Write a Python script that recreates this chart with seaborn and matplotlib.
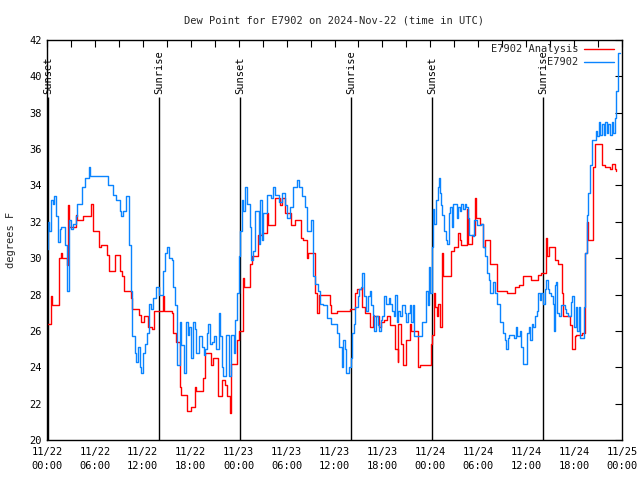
import matplotlib
matplotlib.use("Agg")
import matplotlib.pyplot as plt
import seaborn as sns
import pandas as pd
import numpy as np
from matplotlib.ticker import MultipleLocator

# ---- data (hours since 2024-11-22 00:00 UTC) ----
analysis_t = [0, 0.5, 0.65, 1.5, 1.55, 1.8, 1.9, 2.5, 2.6, 2.7, 3.6, 3.8, 4.5, 5.55, 5.7, 6.5, 6.7,
              7.5, 7.8, 8.5, 9.1, 9.4, 9.7, 10.5, 10.7, 11.5, 11.8, 12.2, 12.6, 13.2, 13.4, 14.5, 14.6,
              15.6, 15.8, 16.1, 16.6, 16.8, 17.5, 18.0, 18.5, 18.7, 19.5, 19.8, 20.5, 20.8, 21.4, 21.9,
              22.3, 22.6, 22.9, 23.1, 23.8, 24.1, 24.5, 24.7, 25.4, 25.7, 26.4, 26.9, 27.5, 27.65, 28.5,
              29.2, 29.4, 29.8, 30.5, 31.0, 31.8, 32.0, 32.5, 32.7, 33.5, 33.8, 34.1, 35.45, 35.6, 36.3,
              37.9, 38.6, 38.8, 39.4, 39.5, 39.8, 40.5, 40.8, 41.6, 41.8, 42.2, 42.6, 42.9, 43.6, 43.9,
              44.0, 44.3, 44.6, 45.0, 45.4, 45.6, 46.5, 46.7, 48.1, 48.2, 48.5, 48.6, 48.8, 49.0, 49.2,
              49.4, 49.55, 50.6, 51.0, 51.5, 51.7, 51.9, 52.6, 52.75, 53.2, 53.55, 53.7, 54.2, 54.6, 54.8,
              55.5, 56.4, 57.6, 58.6, 59.1, 59.6, 60.6, 61.5, 61.9, 62.5, 62.6, 62.8, 63.6, 64.0, 64.5,
              64.6, 65.5, 65.7, 66.1, 66.3, 67.0, 67.4, 67.6, 67.7, 68.4, 68.6, 69.5, 69.9, 70.5, 70.8,
              71.1, 71.3]
analysis_v = [26.4, 27.9, 27.4, 28.2, 30.0, 30.3, 30.0, 29.6, 32.9, 31.7, 32.4, 32.1, 32.3, 33.0, 31.5, 30.6, 30.7,
              30.2, 29.3, 30.2, 29.3, 29.0, 28.2, 27.8, 27.2, 26.9, 26.5, 26.8, 26.2, 26.1, 27.1, 27.9, 27.1,
              27.0, 25.9, 25.4, 22.9, 22.5, 21.6, 21.8, 22.9, 22.7, 23.4, 24.8, 24.1, 24.5, 22.4, 23.3,
              23.0, 22.4, 21.5, 24.2, 25.5, 26.0, 28.9, 28.4, 29.7, 30.1, 31.3, 31.4, 32.5, 31.8, 33.3,
              32.9, 33.3, 32.5, 31.8, 32.1, 31.1, 31.0, 30.0, 30.3, 28.1, 27.0, 28.0, 27.4, 27.0, 27.1,
              27.2, 28.1, 28.3, 28.4, 27.3, 27.0, 26.2, 26.8, 26.2, 26.5, 26.6, 26.8, 26.3, 25.0, 24.3,
              26.4, 25.3, 24.1, 25.5, 26.4, 26.0, 24.0, 24.1, 25.3, 25.8, 28.1, 27.3, 26.8, 27.5, 26.2,
              30.3, 29.0, 30.4, 30.6, 31.4, 31.0, 30.7, 32.7, 30.8, 31.3, 33.3, 32.2, 31.9, 30.6, 31.0,
              29.7, 28.2, 28.1, 28.4, 28.5, 29.0, 28.8, 29.1, 29.2, 31.1, 30.1, 30.6, 29.9, 29.7, 28.1,
              26.8, 26.3, 25.0, 25.7, 25.8, 25.9, 30.3, 32.0, 31.0, 35.0, 36.3, 35.1, 35.0, 34.9, 35.2,
              34.9, 34.8]

station_t = [0.0, 0.1, 0.3, 0.5, 0.7, 0.9, 1.1, 1.4, 1.6, 1.8, 2.2, 2.5, 2.7, 3.0, 3.3, 3.6, 3.8, 4.4,
             4.7, 5.2, 5.35, 7.6, 8.3, 8.7, 9.1, 9.3, 9.5, 9.9, 10.3, 10.5, 10.7, 11.0, 11.2, 11.4, 11.6,
             11.8, 12.0, 12.3, 12.5, 12.75, 13.0, 13.3, 13.6, 14.0, 14.5, 14.8, 15.0, 15.3, 15.6, 15.8,
             16.0, 16.3, 16.6, 16.8, 17.2, 17.4, 17.6, 17.8, 18.0, 18.3, 18.5, 18.7, 19.0, 19.4, 19.6,
             19.8, 20.0, 20.2, 20.4, 20.6, 20.9, 21.2, 21.5, 21.7, 21.9, 22.1, 22.4, 22.8, 23.0, 23.4,
             23.6, 23.8, 24.0, 24.2, 24.4, 24.6, 24.8, 25.0, 25.4, 25.6, 25.8, 26.0, 26.5, 26.7, 26.9,
             27.1, 27.5, 28.0, 28.3, 28.6, 29.0, 29.4, 29.8, 30.0, 30.4, 30.8, 31.3, 31.5, 31.9, 32.3,
             32.5, 33.0, 33.3, 33.6, 33.9, 34.2, 34.6, 35.0, 35.6, 36.0, 36.3, 36.6, 36.9, 37.1, 37.3,
             37.5, 37.8, 38.1, 38.2, 38.4, 38.6, 38.9, 39.1, 39.3, 39.5, 39.7, 39.9, 40.2, 40.4, 40.6,
             40.8, 41.0, 41.2, 41.4, 41.6, 41.8, 42.0, 42.2, 42.4, 42.8, 43.0, 43.2, 43.4, 43.6, 43.8,
             44.0, 44.2, 44.4, 44.8, 45.0, 45.2, 45.4, 45.6, 45.8, 46.0, 46.9, 47.5, 47.7, 47.85, 48.0,
             48.2, 48.35, 48.5, 48.7, 48.9, 49.05, 49.15, 49.3, 49.5, 49.7, 49.9, 50.1, 50.3, 50.5, 50.7,
             50.9, 51.3, 51.5, 51.7, 51.9, 52.1, 52.3, 52.5, 52.7, 52.9, 53.3, 53.5, 53.9, 54.3, 54.6,
             54.9, 55.1, 55.3, 55.5, 55.9, 56.1, 56.3, 56.7, 57.1, 57.3, 57.5, 57.7, 57.9, 58.5, 58.7,
             58.9, 59.2, 59.4, 59.6, 60.1, 60.3, 60.5, 60.7, 60.9, 61.1, 61.3, 61.5, 61.7, 61.9, 62.1,
             62.3, 62.5, 62.7, 62.9, 63.1, 63.3, 63.5, 63.6, 63.75, 63.9, 64.1, 64.3, 64.8, 65.0, 65.3,
             65.6, 65.8, 66.0, 66.2, 66.4, 66.6, 66.8, 67.2, 67.4, 67.6, 67.8, 68.0, 68.3, 68.7, 68.9,
             69.1, 69.3, 69.5, 69.7, 69.9, 70.1, 70.3, 70.5, 70.7, 70.9, 71.1, 71.3, 71.5, 71.7]
station_v = [30.5, 32.0, 31.5, 33.2, 33.0, 33.4, 32.3, 30.9, 31.6, 31.7, 30.7, 28.2, 32.1, 31.6, 31.9, 32.3, 33.0, 33.9,
             34.4, 35.0, 34.5, 34.0, 33.5, 33.2, 32.6, 32.3, 32.6, 33.4, 30.7, 28.2, 25.7, 24.8, 24.3, 25.1, 24.0,
             23.7, 24.8, 25.3, 25.9, 27.5, 27.2, 27.8, 28.4, 28.0, 29.3, 30.3, 30.6, 30.0, 29.9, 28.4,
             27.4, 24.1, 26.5, 25.2, 23.7, 26.5, 25.8, 26.2, 24.5, 26.5, 26.1, 24.8, 25.7, 25.1, 24.7,
             25.0, 25.9, 26.4, 25.3, 25.4, 25.7, 25.0, 27.0, 25.7, 24.0, 23.5, 25.8, 23.5, 25.8, 24.8,
             26.6, 28.1, 30.1, 31.5, 33.2, 32.6, 33.9, 33.0, 31.7, 29.9, 30.4, 32.6, 30.8, 33.2, 31.0,
             32.5, 33.5, 33.3, 33.9, 33.5, 33.1, 33.6, 32.9, 32.2, 32.8, 33.9, 34.3, 33.9, 33.4, 32.8,
             31.5, 32.1, 29.0, 28.6, 28.2, 27.5, 27.4, 26.7, 26.4, 26.4, 25.9, 25.1, 24.0, 25.5, 25.0,
             23.7, 24.0, 24.5, 25.9, 26.4, 27.3, 27.9, 28.3, 28.4, 29.2, 27.9, 27.1, 27.9, 28.2, 27.4,
             26.9, 26.0, 26.8, 26.3, 26.0, 26.6, 26.8, 27.9, 27.5, 27.8, 27.5, 27.1, 26.8, 28.0, 26.5,
             27.1, 26.8, 27.4, 27.0, 26.5, 27.0, 27.4, 26.5, 27.4, 25.7, 26.5, 28.2, 27.4, 29.5, 28.1,
             30.6, 32.7, 31.9, 33.2, 33.9, 34.4, 33.6, 32.9, 32.4, 31.5, 31.0, 30.8, 32.5, 32.8, 31.7,
             33.0, 32.2, 32.8, 32.6, 33.0, 32.7, 33.0, 32.8, 32.2, 31.3, 31.2, 32.1, 31.8, 31.9, 30.6,
             30.1, 29.2, 28.8, 28.1, 28.7, 28.1, 27.5, 26.5, 25.9, 25.5, 25.0, 25.6, 25.8, 25.6, 26.2,
             25.7, 26.0, 25.1, 24.2, 25.9, 26.2, 25.5, 26.4, 26.2, 26.8, 27.1, 28.1, 27.7, 28.1, 27.5,
             28.3, 28.8, 28.3, 28.1, 27.9, 27.5, 26.0, 28.5, 28.7, 27.0, 26.8, 27.4, 27.2, 27.0, 26.8,
             27.6, 27.9, 26.2, 27.3, 26.0, 27.3, 25.6, 27.3, 30.3, 32.4, 33.6, 35.1, 36.5, 37.0, 36.7,
             37.5, 36.8, 37.4, 36.8, 37.5, 36.9, 37.4, 36.8, 37.5, 36.9, 37.7, 39.2, 41.3, 41.3]

sun_t = [0.12, 14.0, 24.15, 38.05, 48.2, 62.1]
sun_labels = ["Sunset", "Sunrise", "Sunset", "Sunrise", "Sunset", "Sunrise"]

tick_hours = list(range(0, 73, 6))
tick_labels = ["11/22\n00:00", "11/22\n06:00", "11/22\n12:00", "11/22\n18:00",
               "11/23\n00:00", "11/23\n06:00", "11/23\n12:00", "11/23\n18:00",
               "11/24\n00:00", "11/24\n06:00", "11/24\n12:00", "11/24\n18:00",
               "11/25\n00:00"]

series_names = ["E7902 Analysis", "E7902"]
series_colors = ["#ff0000", "#0a84ff"]

# ---- build frame ----
df = pd.concat([
    pd.DataFrame({"hours": analysis_t, "dewpoint": analysis_v, "series": series_names[0]}),
    pd.DataFrame({"hours": station_t, "dewpoint": station_v, "series": series_names[1]}),
], ignore_index=True)

sns.set_theme(style="white")
plt.rcParams["font.family"] = ["DejaVu Sans Mono"]
plt.rcParams["font.size"] = 7

fig = plt.figure(figsize=(6.4, 4.8), dpi=100)
ax = fig.add_axes([47/640, 40/480, 575/640, 400/480])

sns.lineplot(data=df, x="hours", y="dewpoint", hue="series",
             palette=dict(zip(series_names, series_colors)),
             hue_order=series_names, estimator=None, sort=False,
             drawstyle="steps-post", lw=1.0, ax=ax)

for t, lab in zip(sun_t, sun_labels):
    ax.vlines(t, 20, 38.85, color="black", lw=1.0, zorder=1)
    ax.text(t, 39.05, lab, rotation=90, ha="center", va="bottom", fontsize=7.5, color="black")

ax.set_xlim(0, 72)
ax.set_ylim(20, 42)
ax.xaxis.set_major_locator(plt.FixedLocator(tick_hours))
ax.set_xticklabels(tick_labels, linespacing=1.55)
ax.xaxis.set_minor_locator(MultipleLocator(3))
ax.yaxis.set_major_locator(MultipleLocator(2))
ax.tick_params(which="both", direction="in", top=True, right=True, length=5, width=0.8,
               labelsize=7.5, colors="black")
ax.tick_params(axis="x", pad=5)
ax.set_xlabel("")
ax.set_ylabel("degrees F", fontsize=7.5, labelpad=10)
for s in ax.spines.values():
    s.set_color("black")
    s.set_linewidth(1.0)

ax.set_title("Dew Point for E7902 on 2024-Nov-22 (time in UTC)", fontsize=7.5, pad=12)

leg = ax.legend(loc="upper right", frameon=False, markerfirst=False, fontsize=7.5,
                handlelength=2.9, handletextpad=0.5, borderaxespad=0.0, labelspacing=0.3,
                bbox_to_anchor=(0.993, 1.0))
for line in leg.get_lines():
    line.set_linewidth(1.0)

fig.savefig("out.png", dpi=100)
